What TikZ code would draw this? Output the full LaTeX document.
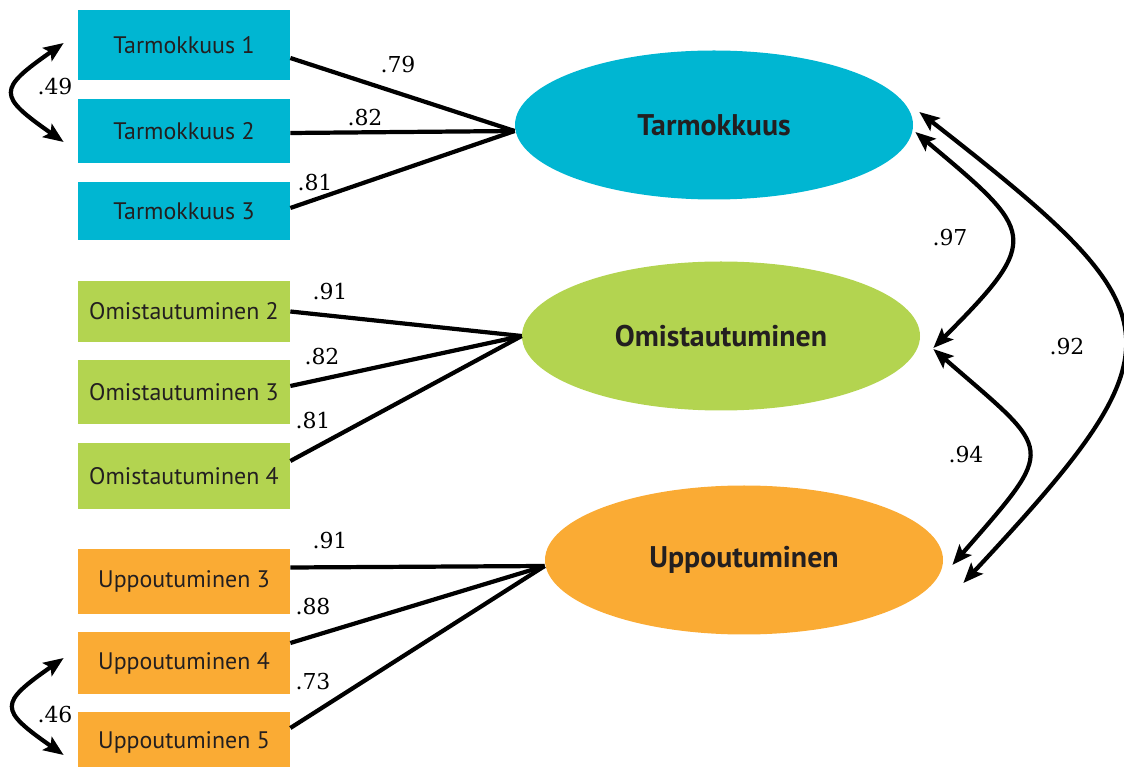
\documentclass[tikz,border=0pt]{standalone}
\usepackage{fontspec}
\setmainfont{Liberation Serif}
\newfontfamily\itemfont{PT Sans}
\newfontfamily\coeffont{DejaVu Serif}
\usepackage{tikz}
\usetikzlibrary{shapes}
\usetikzlibrary{positioning}
\usetikzlibrary{arrows.meta}
\definecolor{tarcyan}{RGB}{0,182,210}
\definecolor{omigreen}{RGB}{179,212,80}
\definecolor{upporange}{RGB}{250,171,52}
\definecolor{labelgray}{RGB}{35,31,32}
\tikzset{
    every node/.style={text=labelgray}, % Dark text everywhere
    semtip/.tip={Stealth[length=0.4cm,width=0.32cm,inset=0.08cm]} % Bold arrowheads
}

\begin{document}
\begin{tikzpicture}[
            item/.style={rectangle, fill=#1, minimum width=4.24cm, inner sep=0pt, font=\itemfont\fontsize{13.6}{16}\selectfont},
            factor/.style={ellipse, fill=#1, minimum width=7.96cm, minimum height=2.98cm, inner sep=0pt, font=\itemfont\bfseries\fontsize{17}{20}\selectfont},
            coef/.style={font=\coeffont\fontsize{12.5}{14}\selectfont, text=black},
            loading/.style={line width=2.4pt},
            cov/.style={line width=2.4pt, semtip-semtip}
        ]
        \useasboundingbox (0,0) rectangle (22.48,-15.34);

        % Tarmokkuus items
        \node[item=tarcyan, minimum height=1.40cm] (t1) at (3.68,-0.90) {Tarmokkuus 1};
        \node[item=tarcyan, minimum height=1.28cm] (t2) at (3.68,-2.62) {Tarmokkuus 2};
        \node[item=tarcyan, minimum height=1.16cm] (t3) at (3.68,-4.22) {Tarmokkuus 3};

        % Omistautuminen items
        \node[item=omigreen, minimum height=1.22cm] (o2) at (3.68,-6.23) {Omistautuminen 2};
        \node[item=omigreen, minimum height=1.28cm] (o3) at (3.68,-7.84) {Omistautuminen 3};
        \node[item=omigreen, minimum height=1.32cm] (o4) at (3.68,-9.52) {Omistautuminen 4};

        % Uppoutuminen items
        \node[item=upporange, minimum height=1.30cm] (u3) at (3.68,-11.63) {Uppoutuminen 3};
        \node[item=upporange, minimum height=1.24cm] (u4) at (3.68,-13.26) {Uppoutuminen 4};
        \node[item=upporange, minimum height=1.20cm] (u5) at (3.68,-14.84) {Uppoutuminen 5};

        % Latent factors
        \node[factor=tarcyan] (tar) at (14.28,-2.50) {Tarmokkuus};
        \node[factor=omigreen] (omi) at (14.42,-6.72) {Omistautuminen};
        \node[factor=upporange] (upp) at (14.88,-11.20) {Uppoutuminen};

        % Loadings
        \draw[loading] ([yshift=-0.26cm]t1.east) -- ([yshift=-0.12cm]tar.west);
        \draw[loading] ([yshift=-0.04cm]t2.east) -- ([yshift=-0.12cm]tar.west);
        \draw[loading] ([yshift=0.06cm]t3.east) -- ([yshift=-0.12cm]tar.west);
        \draw[loading] (o2.east) -- (omi.west);
        \draw[loading] ([yshift=0.12cm]o3.east) -- (omi.west);
        \draw[loading] ([yshift=0.30cm]o4.east) -- (omi.west);
        \draw[loading] ([yshift=0.28cm]u3.east) -- ([yshift=-0.12cm]upp.west);
        \draw[loading] ([yshift=0.40cm]u4.east) -- ([yshift=-0.12cm]upp.west);
        \draw[loading] ([yshift=0.28cm]u5.east) -- ([yshift=-0.12cm]upp.west);

        % Loading values
        \node[coef] (l1) at (7.96,-1.30) {.79};
        \node[coef] (l2) at (7.30,-2.36) {.82};
        \node[coef] (l3) at (6.30,-3.66) {.81};
        \node[coef] (l4) at (6.60,-5.84) {.91};
        \node[coef] (l5) at (6.44,-7.14) {.82};
        \node[coef] (l6) at (6.26,-8.42) {.81};
        \node[coef] (l7) at (6.60,-10.82) {.91};
        \node[coef] (l8) at (6.26,-12.14) {.88};
        \node[coef] (l9) at (6.26,-13.64) {.73};

        % Error covariances
        \draw[cov] ([xshift=-0.28cm,yshift=0.04cm]t1.west) to[out=215,in=145,looseness=2.1] ([xshift=-0.28cm,yshift=-0.22cm]t2.west);
        \draw[cov] ([xshift=-0.28cm,yshift=0.10cm]u4.west) to[out=215,in=145,looseness=2.1] ([xshift=-0.28cm,yshift=-0.26cm]u5.west);
        \node[coef] (c1) at (1.10,-1.74) {.49};
        \node[coef] (c2) at (1.10,-14.30) {.46};

        % Factor correlations
        \draw[cov] ([xshift=0.04cm,yshift=-0.14cm]tar.east) to[out=-40,in=45,looseness=1.84] ([xshift=0.26cm,yshift=-0.24cm]omi.east);
        \draw[cov] ([xshift=0.26cm,yshift=-0.26cm]omi.east) to[out=-41,in=49,looseness=1.9] ([xshift=0.18cm,yshift=-0.10cm]upp.east);
        \draw[cov] ([xshift=0.12cm,yshift=0.26cm]tar.east) to[out=-38,in=47,looseness=1.78] ([xshift=0.40cm,yshift=-0.46cm]upp.east);
        \node[coef] (r1) at (19.00,-4.76) {.97};
        \node[coef] (r2) at (21.34,-6.94) {.92};
        \node[coef] (r3) at (19.32,-9.10) {.94};

    \end{tikzpicture}
\end{document}
